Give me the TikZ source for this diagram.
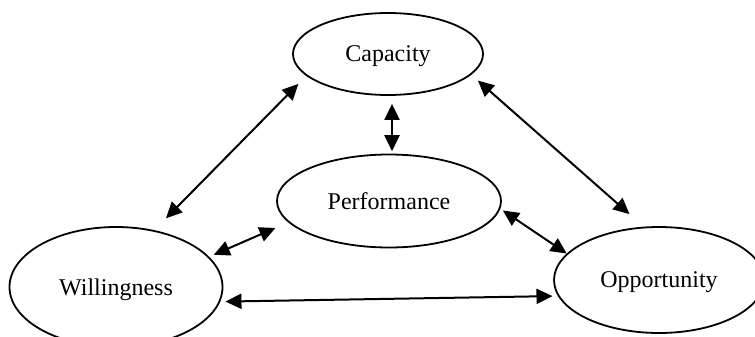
\documentclass[tikz,border=0pt]{standalone}
\usepackage{fontspec}
\setmainfont{Liberation Serif}
\usetikzlibrary{shapes.geometric,arrows.meta}
\begin{document}
\begin{tikzpicture}[x=0.5pt,y=-0.5pt,
  oval/.style={draw,ellipse,line width=0.9pt,inner sep=0pt,text depth=0pt,font=\fontsize{12}{14}\selectfont},
  biarrow/.style={line width=1pt,{Triangle[length=8pt,width=7.5pt]}-{Triangle[length=8pt,width=7.5pt]}}]
\useasboundingbox (0,0) rectangle (755,337);
\clip (0,0) rectangle (755,337);
\node[oval,minimum width=95pt,minimum height=41pt] (cap) at (388,54) {Capacity};
\node[oval,minimum width=112pt,minimum height=46.5pt] (per) at (389,201) {Performance};
\node[oval,minimum width=106.5pt,minimum height=60pt] (wil) at (116,287) {Willingness};
\node[oval,minimum width=105pt,minimum height=53pt] (opp) at (659,280) {Opportunity};
\draw[biarrow,shorten <=5.6pt,shorten >=8.3pt] (cap.195.4) -- (wil.56.4);
\draw[biarrow,shorten <=4pt,shorten >=1.2pt] ([xshift=2pt]cap.south) -- ([xshift=2pt]cap.south |- per.north);
\draw[biarrow,shorten <=4.4pt,shorten >=9.5pt] (cap.-14.6) -- (opp.106.7);
\draw[biarrow,shorten <=7pt,shorten >=2.5pt] (per.192.3) -- (wil.18);
\draw[biarrow,shorten <=1.5pt,shorten >=0pt] (per.-4.9) -- (opp.164.1);
\draw[biarrow,shorten <=2.6pt,shorten >=2.7pt] (wil.-8.9) -- (opp.189.6);
\end{tikzpicture}
\end{document}
